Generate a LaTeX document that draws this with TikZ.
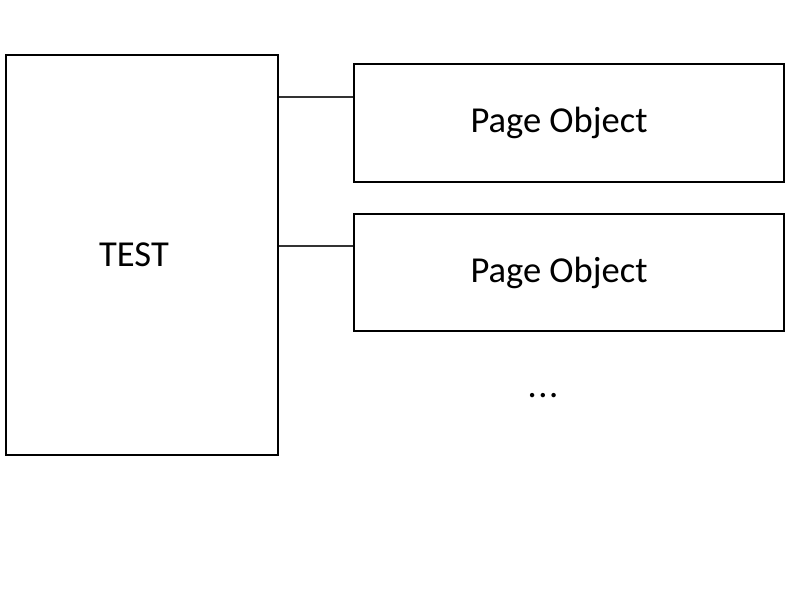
\documentclass[tikz,border=0pt]{standalone}
\usepackage{fontspec}
\setmainfont{Carlito}
\usetikzlibrary{positioning}
\begin{document}
\begin{tikzpicture}[objbox/.style={draw,line width=1.4pt,inner sep=0pt,font=\fontsize{26}{31}\selectfont},
                    link/.style={line width=1pt,black!80}]
\useasboundingbox (0,0) rectangle (20,15);
\node[objbox,minimum width=6.8cm,minimum height=10cm] (test) at (3.55,8.625) {TEST\hspace*{0.4cm}};
\node[objbox,minimum width=10.75cm,minimum height=2.95cm] (po1) at (14.225,11.925) {Page Object\hspace*{0.5cm}};
\node[objbox,minimum width=10.75cm,minimum height=2.925cm] (po2) at (14.225,8.1875) {Page Object\hspace*{0.5cm}};
\node[font=\fontsize{26}{31}\selectfont] (dots) at (13.575,5.1) {.\kern0.04em.\kern0.04em.};
% connectors
\draw[link] (test.east |- 0,12.575) -- (po1.west |- 0,12.575);
\draw[link] (test.east |- 0,8.85) -- (po2.west |- 0,8.85);
\end{tikzpicture}
\end{document}
